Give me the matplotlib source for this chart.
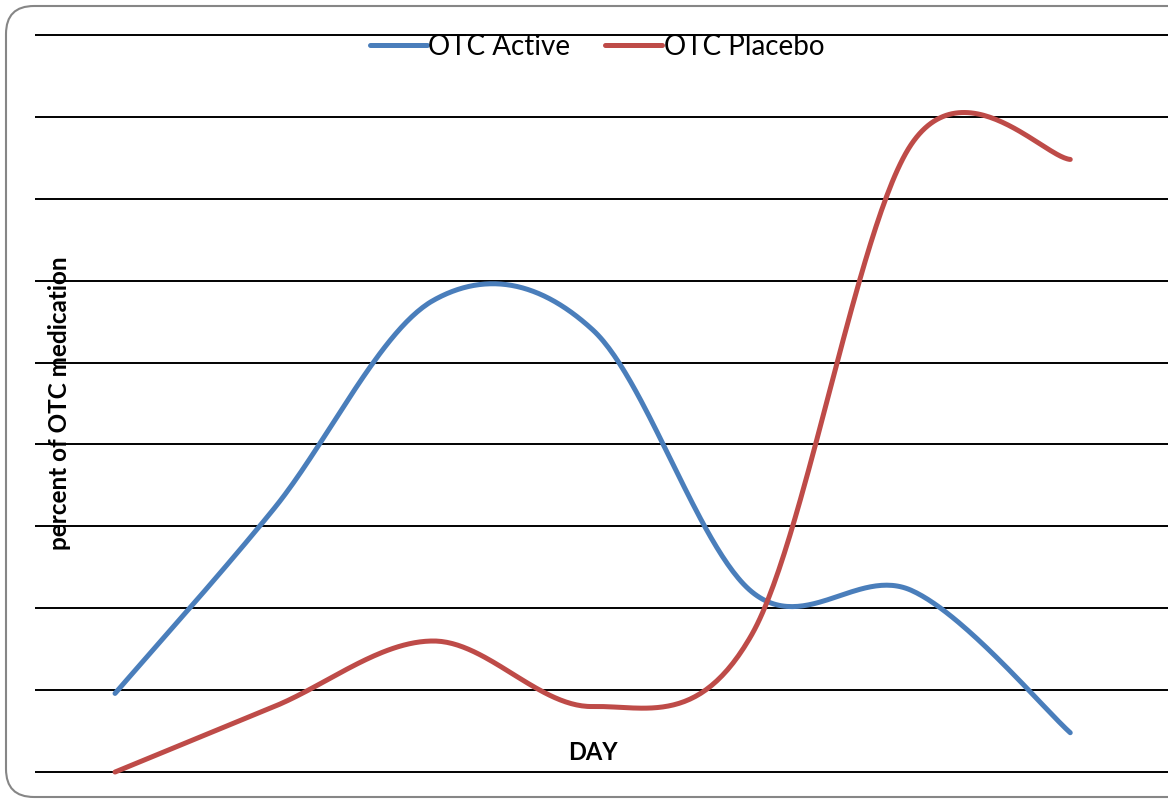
import numpy as np
import matplotlib
matplotlib.use("Agg")
import matplotlib.pyplot as plt
from matplotlib.patches import FancyBboxPatch
from matplotlib.transforms import IdentityTransform
from matplotlib.lines import Line2D

# Daily percentages for the two groups
days = ["1", "2", "3", "4", "5", "6", "7"]
otc_active = [4.8, 16.1, 28.8, 27.0, 11.0, 11.1, 2.4]
otc_placebo = [0.0, 4.0, 8.0, 4.0, 8.4, 38.3, 37.4]
y_ticks = [0, 5, 10, 15, 20, 25, 30, 35, 40, 45]

BLUE = "#4A7EBB"
RED = "#BE4B48"


def smooth(xs, ys, n=60):
    """Bezier smoothing through every point (control points at 1/6 of the neighbour span)."""
    p = np.column_stack([xs, ys]).astype(float)
    p = np.vstack([p[0], p, p[-1]])
    t = np.linspace(0, 1, n)[:, None]
    out = []
    for i in range(1, len(p) - 2):
        a, b = p[i], p[i + 1]
        c1 = a + (p[i + 1] - p[i - 1]) / 6
        c2 = b - (p[i + 2] - p[i]) / 6
        seg = ((1 - t) ** 3) * a + 3 * ((1 - t) ** 2) * t * c1 + 3 * (1 - t) * t ** 2 * c2 + t ** 3 * b
        out.append(seg if i == 1 else seg[1:])
    out = np.vstack(out)
    return out[:, 0], out[:, 1]


fig = plt.figure(figsize=(11.68, 7.99), dpi=100)
ax = fig.add_axes([0.030, 0.0235, 0.970, 0.943])

x = np.arange(len(days))
for vals, col, name in [(otc_active, BLUE, "OTC Active"), (otc_placebo, RED, "OTC Placebo")]:
    sx, sy = smooth(x, vals)
    ax.plot(sx, sy, color=col, lw=3.6, solid_capstyle="round", label=name, zorder=3)

ax.set_xlim(-0.5025, 6.614)
ax.set_ylim(-0.5, 45.5)
ax.set_yticks(y_ticks)
ax.set_xticks([])
ax.tick_params(left=False, labelleft=False)
ax.grid(axis="y", color="black", lw=1.4)
ax.set_axisbelow(True)
for s in ax.spines.values():
    s.set_visible(False)

handles = [Line2D([], [], color=BLUE, lw=3.6, solid_capstyle="round"),
           Line2D([], [], color=RED, lw=3.6, solid_capstyle="round")]
fig.legend(handles, ["OTC Active", "OTC Placebo"], loc="center",
           bbox_to_anchor=(597 / 1168, 1 - 47 / 799), ncol=2, frameon=False,
           prop={"family": "Lato", "size": 20}, handlelength=2.05,
           handletextpad=0.05, columnspacing=1.25)

fig.text(60 / 1168, 1 - 403 / 799, "percent of OTC medication", rotation=90,
         ha="center", va="center", family="Lato", weight="bold", fontsize=17.5)
fig.text(593 / 1168, 1 - 752 / 799, "DAY", ha="center", va="center",
         family="Lato", weight="bold", fontsize=17)

border = FancyBboxPatch((6, 2), 1250, 791,
                        boxstyle="round,pad=0,rounding_size=28",
                        transform=IdentityTransform(), fill=False,
                        ec="#868686", lw=1.5)
fig.patches.append(border)

fig.savefig("out.png", dpi=100)
